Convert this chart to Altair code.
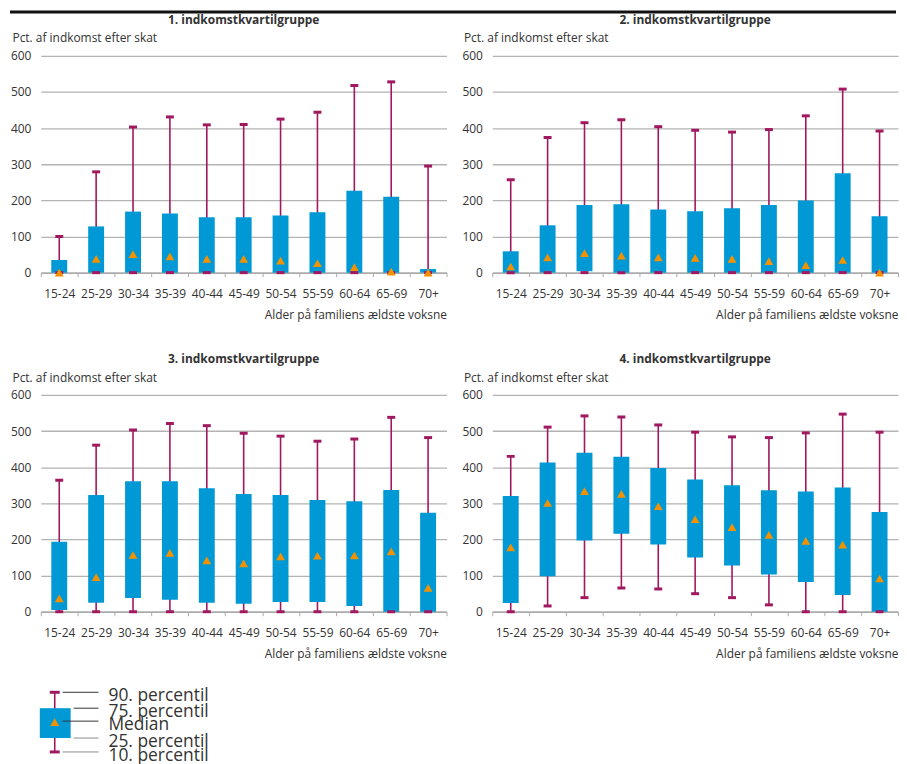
import altair as alt
import pandas as pd

ages = ["15-24", "25-29", "30-34", "35-39", "40-44", "45-49",
        "50-54", "55-59", "60-64", "65-69", "70+"]
groups = ["1. indkomstkvartilgruppe", "2. indkomstkvartilgruppe",
          "3. indkomstkvartilgruppe", "4. indkomstkvartilgruppe"]

g1_p10 = [0, 0, 0, 0, 0, 0, 0, 0, 0, 0, 0]
g1_p25 = [0, 0, 0, 0, 0, 0, 0, 0, 0, 0, 0]
g1_med = [0, 38, 51, 45, 38, 38, 33, 26, 15, 3, 0]
g1_p75 = [35, 128, 169, 164, 153, 153, 158, 167, 227, 210, 10]
g1_p90 = [100, 279, 403, 431, 409, 410, 425, 444, 518, 528, 295]

g2_p10 = [0, 0, 0, 0, 0, 0, 0, 0, 0, 0, 0]
g2_p25 = [0, 0, 4, 0, 0, 0, 0, 0, 0, 0, 0]
g2_med = [17, 42, 54, 47, 42, 41, 38, 32, 21, 35, 0]
g2_p75 = [59, 131, 187, 189, 175, 170, 178, 187, 200, 275, 156]
g2_p90 = [257, 374, 415, 423, 404, 394, 389, 396, 434, 508, 392]

g3_p10 = [0, 0, 0, 0, 0, 0, 0, 0, 0, 0, 0]
g3_p25 = [5, 25, 38, 33, 25, 22, 27, 27, 16, 0, 0]
g3_med = [37, 96, 157, 163, 142, 134, 153, 155, 156, 167, 66]
g3_p75 = [194, 323, 361, 361, 342, 326, 323, 309, 306, 337, 274]
g3_p90 = [364, 461, 503, 521, 515, 494, 486, 472, 478, 538, 482]

g4_p10 = [0, 16, 39, 66, 63, 50, 39, 19, 0, 0, 0]
g4_p25 = [24, 98, 197, 216, 186, 150, 128, 103, 82, 46, 0]
g4_med = [178, 301, 334, 326, 292, 256, 234, 213, 196, 186, 92]
g4_p75 = [320, 413, 440, 429, 398, 366, 350, 336, 333, 344, 276]
g4_p90 = [430, 511, 542, 539, 517, 497, 484, 482, 495, 547, 497]

y_ticks = [0, 100, 200, 300, 400, 500, 600]

# key (legend) diagram
key_labels = ["90. percentil", "75. percentil", "Median", "25. percentil", "10. percentil"]
key_level = [7, 23, 36, 53, 67]
key_line_start = [22, 33, 22, 33, 22]
key_line_color = ["#333333", "#333333", "#333333", "#8a8a8a", "#8a8a8a"]

BLUE = "#0099D6"
MAG = "#A0185F"
ORANGE = "#F39200"
TXT = "#333333"
W, H = 408, 218

series = [
    (g1_p10, g1_p25, g1_med, g1_p75, g1_p90),
    (g2_p10, g2_p25, g2_med, g2_p75, g2_p90),
    (g3_p10, g3_p25, g3_med, g3_p75, g3_p90),
    (g4_p10, g4_p25, g4_med, g4_p75, g4_p90),
]

xaxis = alt.Axis(title="Alder på familiens ældste voksne",
                 titleAnchor="end", titleFontWeight="normal",
                 titleFontSize=12, titleColor=TXT, titlePadding=10,
                 labelAngle=0, labelFontSize=12, labelColor=TXT,
                 labelPadding=12, tickBand="extent", tickSize=4,
                 tickColor="#aaaaaa", domainColor="#aaaaaa",
                 domainWidth=1.5)
yaxis = alt.Axis(values=y_ticks, title="Pct. af indkomst efter skat",
                 titleAngle=0, titleAlign="left",
                 titleBaseline="alphabetic", titleX=-29, titleY=-14,
                 titleFontWeight="normal", titleFontSize=12,
                 titleColor=TXT, grid=True, gridColor="#b3b3b3",
                 gridWidth=1.3, domain=False, ticks=False, labelOverlap=False,
                 labelPadding=10, labelFontSize=12, labelColor=TXT)
yscale = alt.Scale(domain=[0, 600], nice=False)
noframe = alt.ViewConfig(stroke="transparent", strokeWidth=0)


def Y(field):
    return alt.Y(field, scale=yscale, axis=yaxis)


def panel(k):
    p10, p25, med, p75, p90 = series[k]
    df = pd.DataFrame({"age": ages, "p10": p10, "p25": p25, "med": med,
                       "p75": p75, "p90": p90})
    xenc = alt.X("age:N", sort=ages,
                 scale=alt.Scale(paddingInner=0, paddingOuter=0), axis=xaxis)
    base = alt.Chart(df).encode(x=xenc)
    whisk = base.mark_rule(color=MAG, strokeWidth=1.6).encode(
        y=Y("p10:Q"), y2="p90:Q")
    box = base.mark_bar(size=16, color=BLUE).encode(y=Y("p25:Q"), y2="p75:Q")
    cap_lo = base.mark_tick(color=MAG, size=8, thickness=3, opacity=1).encode(y=Y("p10:Q"))
    cap_hi = base.mark_tick(color=MAG, size=8, thickness=3, opacity=1).encode(y=Y("p90:Q"))
    medm = base.mark_point(shape="triangle-up", filled=True, color=ORANGE,
                           size=80, opacity=1).encode(y=Y("med:Q"))
    return alt.layer(whisk, box, cap_lo, cap_hi, medm).properties(
        width=W, height=H, view=noframe,
        title=alt.TitleParams(groups[k], fontSize=12, fontWeight="bold",
                              color=TXT, anchor="middle", frame="group", offset=5))


# key chart
kx = alt.Scale(domain=[0, 300], nice=False)
ky = alt.Scale(domain=[0, 78], nice=False, reverse=True)
key_box = pd.DataFrame({"x": [-1], "x2": [30], "lo": [key_level[1]], "hi": [key_level[3]],
                        "w": [14], "top": [key_level[0]], "bot": [key_level[4]],
                        "m": [key_level[2] + 1]})
key_lines = pd.DataFrame({"label": key_labels, "lvl": key_level,
                          "x0": key_line_start, "col": key_line_color})
kb = alt.Chart(key_box)
KX = lambda f: alt.X(f, scale=kx, axis=None)
KY = lambda f: alt.Y(f, scale=ky, axis=None)
k_whisk = kb.mark_rule(color=MAG, strokeWidth=1.6).encode(
    x=KX("w:Q"), y=KY("top:Q"), y2="bot:Q")
k_box = kb.mark_rect(color=BLUE).encode(
    x=KX("x:Q"), x2="x2:Q", y=KY("lo:Q"), y2="hi:Q")
k_cap1 = kb.mark_tick(color=MAG, size=10, thickness=3, opacity=1, orient="horizontal").encode(
    x=KX("w:Q"), y=KY("top:Q"))
k_cap2 = kb.mark_tick(color=MAG, size=10, thickness=3, opacity=1, orient="horizontal").encode(
    x=KX("w:Q"), y=KY("bot:Q"))
k_med = kb.mark_point(shape="triangle-up", filled=True, color=ORANGE, size=80,
                      opacity=1).encode(x=KX("w:Q"), y=KY("m:Q"))
kl = alt.Chart(key_lines)
k_lead = kl.mark_rule(strokeWidth=1).encode(
    x=KX("x0:Q"), x2=alt.datum(58), y=KY("lvl:Q"),
    color=alt.Color("col:N", scale=None))
k_text = kl.mark_text(align="left", baseline="alphabetic", fontSize=17.5, color=TXT,
                      dy=9).encode(
    x=alt.datum(68), y=KY("lvl:Q"), text="label:N")
key = alt.layer(k_whisk, k_box, k_cap1, k_cap2, k_med, k_lead, k_text).properties(
    width=300, height=78, view=noframe)

# black rule across the top of the page
topline = alt.Chart(pd.DataFrame({"k": [0]})).mark_rule(
    color="#111111", strokeWidth=3).encode(
    x=alt.value(-31), x2=alt.value(860), y=alt.value(0)).properties(
    width=W, height=1, view=noframe)

row1 = alt.hconcat(panel(0), panel(1), spacing=14)
row2 = alt.hconcat(panel(2), panel(3), spacing=14)
top = alt.vconcat(topline, row1, spacing=0)
grid = alt.vconcat(top, row2, spacing=33)
chart = alt.vconcat(grid, key, spacing=26).properties(
    padding={"left": 0, "top": 0, "right": 0, "bottom": 0}
).configure(font="Open Sans").configure_view(strokeWidth=0, stroke="transparent")

chart.save("out.html", embed_options={"renderer": "svg", "actions": False})
